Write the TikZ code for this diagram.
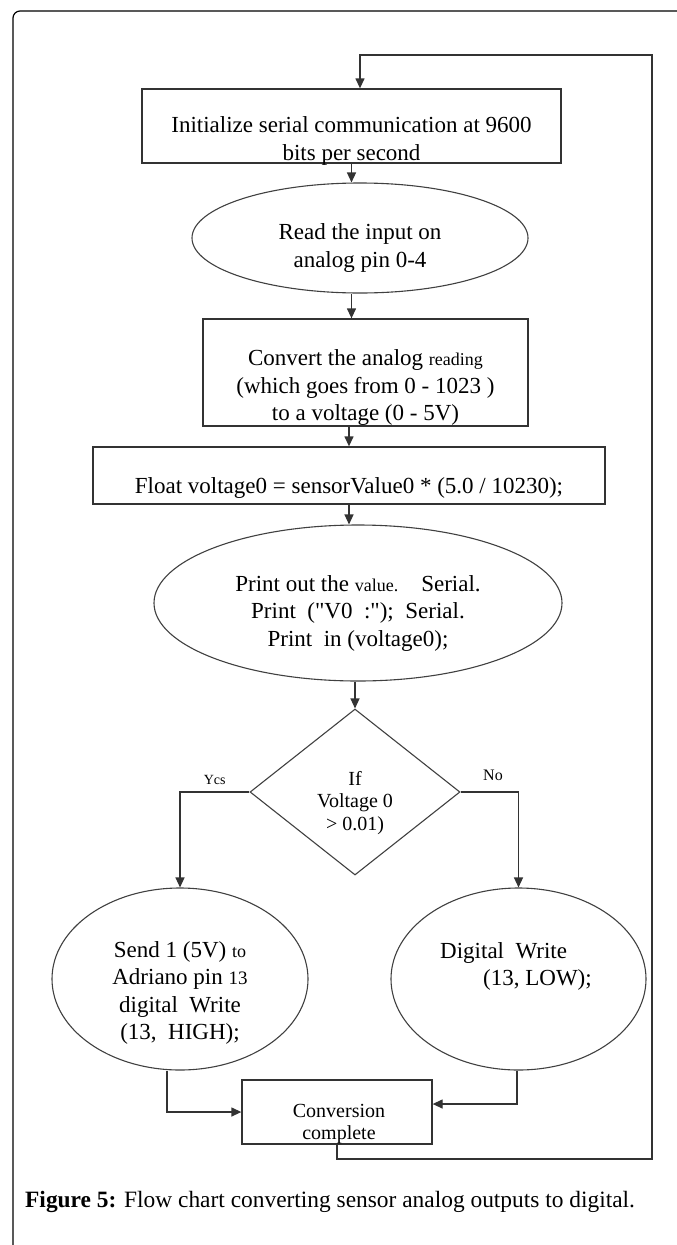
\documentclass[tikz,border=0pt]{standalone}
\usepackage{fontspec}
\setmainfont{Liberation Serif}[Ligatures=TeXOff]
\usetikzlibrary{arrows.meta,shapes.geometric,positioning}
\tikzset{
procbox/.style={draw=black!80, line width=1.3pt, inner sep=0pt},
ioshape/.style={ellipse, draw=black!75, line width=1.1pt, inner sep=0pt},
decision/.style={diamond, draw=black!75, line width=1.1pt, inner sep=0pt},
txt/.style={align=center, inner sep=0pt, font=\fontsize{23}{27.5}\selectfont},
smalltxt/.style={align=center, inner sep=0pt, font=\fontsize{20}{22.5}\selectfont},
outerframe/.style={draw=black, line width=1.2pt, rounded corners=7pt}
}
\tikzstyle{arrow} = [draw=black!80, line width=1.3pt, -{Triangle[length=10pt,width=9pt]}]

\begin{document}
\begin{tikzpicture}[x=1pt,y=-1pt]
\useasboundingbox (0,0) rectangle (677,1245);
\draw[outerframe] (13,1250) -- (13,11) -- (682,11);

% shapes
\node[procbox, minimum width=419pt, minimum height=74pt] (init) at (351.5,126) {};
\node[ioshape, minimum width=336pt, minimum height=110pt] (read) at (360,238) {};
\node[procbox, minimum width=325pt, minimum height=107pt] (conv) at (365.5,372.5) {};
\node[procbox, minimum width=512pt, minimum height=57pt] (flt) at (349,475.5) {};
\node[ioshape, minimum width=408pt, minimum height=156pt] (prt) at (358,603) {};
\node[decision, minimum width=210pt, minimum height=166pt] (dec) at (355,792) {};
\node[ioshape, minimum width=256pt, minimum height=182pt] (yes) at (180,979) {};
\node[ioshape, minimum width=255pt, minimum height=182pt] (no) at (518.5,979) {};
\node[procbox, minimum width=190pt, minimum height=64pt] (done) at (337,1112) {};

% texts
\node[txt] (initTxt) at ([yshift=-15pt]init.center) {Initialize serial communication at 9600\\bits per second};
\node[txt] (readTxt) at ([yshift=-10pt]read.center) {Read the input on\\analog pin 0-4};
\node[txt] (convTxt) at ([yshift=-15pt]conv.center) {Convert the analog {\fontsize{18}{27.5}\selectfont reading}\\(which goes from 0 - 1023 )\\to a voltage (0 - 5V)};
\node[txt] (fltTxt) at ([yshift=-12pt]flt.center) {Float voltage0 = sensorValue0 * (5.0 / 10230);};
\node[txt] (prtTxt) at ([yshift=-10pt]prt.center) {Print out the {\fontsize{18}{28}\selectfont value.}\quad Serial.\\Print\ \ ("V0\ \ :");\ \ Serial.\\Print\ \ in (voltage0);};
\node[smalltxt] (decTxt) at ([yshift=-11pt]dec.center) {If\\Voltage 0\\> 0.01)};
\node[txt] (yesTxt) at ([yshift=-14pt]yes.center) {Send 1 (5V) {\fontsize{18}{27.7}\selectfont to}\\Adriano pin {\fontsize{19}{27.7}\selectfont 13}\\digital\ \ Write\\(13,\ \ HIGH);};
\node[txt, align=left] (noTxt) at ([xshift=-2.5pt,yshift=12.5pt]no.center) {Digital\ \ Write\\\hspace*{43pt}(13, LOW);};
\node[align=center, inner sep=0pt, font=\fontsize{20}{22}\selectfont] (doneTxt) at ([xshift=2pt,yshift=-12pt]done.center) {Conversion\\complete};

% connectors
\coordinate (loopR) at (652,1159);
\coordinate (loopT) at (652,55);
\draw[arrow] (init.south) -- (init.south |- read.north);
\draw[arrow] (read.south -| init.south) -- (conv.north -| init.south);
\draw[arrow] (conv.south -| flt.north) -- (flt.north);
\draw[arrow] (flt.south) -- (flt.south |- prt.north);
\draw[arrow] (prt.south -| dec.north) -- (dec.north);
\draw[arrow] (dec.west) -| node[pos=0.25, above=3pt, font=\fontsize{14}{14}\selectfont] {Ycs} (yes.north);
\draw[arrow] (dec.east) -| node[pos=0.28, above=7pt, font=\fontsize{16}{16}\selectfont] {No} (no.north);
\draw[arrow] ([xshift=-13pt]yes.south) |- (done.west);
\draw[arrow] ([xshift=-1.5pt]no.south) |- ([yshift=8pt]done.east);
\draw[arrow] (done.south) |- (loopR) -- (loopT) -| ([xshift=8.5pt]init.north);

\node[anchor=base west, inner sep=0pt, font=\fontsize{23.4}{27}\selectfont] (caption) at (25,1207) {\textbf{Figure 5:} Flow chart converting sensor analog outputs to digital.};
\end{tikzpicture}
\end{document}
